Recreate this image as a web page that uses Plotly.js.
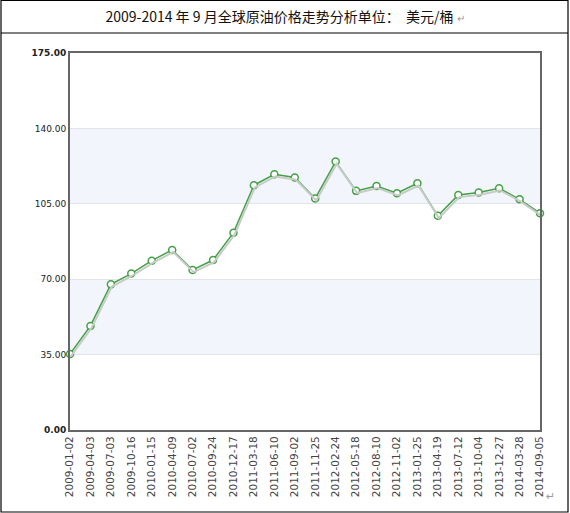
<!DOCTYPE html>
<html>
<head>
<meta charset="utf-8">
<script src="https://cdn.plot.ly/plotly-3.0.1.min.js"></script>
<style>
  html, body { margin: 0; padding: 0; background: #fff; }
</style>
</head>
<body>
<div id="chart" style="width:570px;height:513px;"></div>
<script>
// dates on the x axis and the price (USD per barrel)
var dates = ['2009-01-02', '2009-04-03', '2009-07-03', '2009-10-16', '2010-01-15', '2010-04-09',
             '2010-07-02', '2010-09-24', '2010-12-17', '2011-03-18', '2011-06-10', '2011-09-02',
             '2011-11-25', '2012-02-24', '2012-05-18', '2012-08-10', '2012-11-02', '2013-01-25',
             '2013-04-19', '2013-07-12', '2013-10-04', '2013-12-27', '2014-03-28', '2014-09-05'];
var prices = [35.3, 48.3, 67.6, 72.6, 78.6, 83.6,
              74.3, 78.9, 91.6, 113.6, 118.7, 117.2,
              107.5, 124.6, 111.0, 113.3, 109.9, 114.5,
              99.4, 109.1, 110.2, 112.2, 107.1, 100.6];

var yTickVals = [0, 35, 70, 105, 140, 175];
var yTickText = ['<b>0.00</b>', '35.00', '70.00', '105.00', '140.00', '<b>175.00</b>'];

var titleText = '2009-2014 年 9 月全球原油价格走势分析单位：  美元/桶';

// shaded bands between every other pair of gridlines
var bands = [];
for (var i = 1; i < yTickVals.length - 1; i += 2) {
    bands.push({
        type: 'rect', xref: 'paper', yref: 'y',
        x0: 0, x1: 1, y0: yTickVals[i], y1: yTickVals[i + 1],
        fillcolor: '#f2f6fc', line: { width: 0 }, layer: 'below'
    });
}

// grey shadow under the line, drawn on a slightly shifted copy of the axes
var Shadow = {
    x: dates,
    y: prices,
    xaxis: 'x2',
    yaxis: 'y2',
    mode: 'lines',
    line: { color: '#c6cbc6', width: 2 },
    hoverinfo: 'skip',
    showlegend: false,
    type: 'scatter'
};

var Price = {
    x: dates,
    y: prices,
    mode: 'lines+markers',
    line: { color: '#44a044', width: 1.5 },
    marker: {
        symbol: 'circle',
        size: 7,
        color: '#ffffff',
        line: { color: '#44a044', width: 1.5 }
    },
    cliponaxis: false,
    showlegend: false,
    type: 'scatter'
};

var layout = {
    width: 570,
    height: 513,
    margin: { l: 70, r: 30, t: 53, b: 83, pad: 0 },
    paper_bgcolor: '#ffffff',
    plot_bgcolor: '#ffffff',
    font: { family: 'DejaVu Sans, Verdana, sans-serif', color: '#333333' },
    title: {
        text: titleText + ' <span style="color:#9a9a9a;font-size:10px">↵</span>',
        font: { family: 'Noto Sans CJK SC, sans-serif', size: 14, color: '#111111' },
        x: 0.5, xanchor: 'center',
        y: 1 - 17 / 513, yref: 'container', yanchor: 'middle'
    },
    xaxis: {
        type: 'category',
        range: [0, dates.length - 1],
        tickangle: -90,
        ticks: '',
        tickfont: { size: 10.5, color: '#444444' },
        showgrid: false,
        zeroline: false,
        showline: true,
        mirror: true,
        linecolor: '#666666',
        linewidth: 2,
        fixedrange: true
    },
    yaxis: {
        range: [0, 175],
        tickvals: yTickVals,
        ticktext: yTickText,
        ticks: '',
        tickfont: { size: 9, color: '#222222' },
        showgrid: true,
        gridcolor: '#e1e5ea',
        gridwidth: 1,
        zeroline: false,
        showline: true,
        mirror: true,
        linecolor: '#666666',
        linewidth: 2,
        fixedrange: true
    },
    xaxis2: {
        type: 'category',
        overlaying: 'x',
        range: [-0.05, dates.length - 1.05],
        visible: false
    },
    yaxis2: {
        overlaying: 'y',
        range: [1, 176],
        visible: false
    },
    shapes: bands.concat([
        // outer table border
        {
            type: 'rect', xref: 'paper', yref: 'paper',
            x0: -69 / 470, x1: 498 / 470, y0: -82 / 377, y1: 429.5 / 377,
            line: { color: '#000000', width: 1.2 }, fillcolor: 'rgba(0,0,0,0)'
        },
        // line under the title row
        {
            type: 'line', xref: 'paper', yref: 'paper',
            x0: -69 / 470, x1: 498 / 470, y0: 397 / 377, y1: 397 / 377,
            line: { color: '#000000', width: 1.2 }
        }
    ]),
    annotations: [
        {
            text: '↵', xref: 'paper', yref: 'paper',
            x: 487 / 470, y: -75 / 377, showarrow: false,
            font: { size: 11, color: '#9a9a9a' }
        }
    ]
};

Plotly.newPlot('chart', [Shadow, Price], layout, { displayModeBar: false, staticPlot: true });
</script>
</body>
</html>
